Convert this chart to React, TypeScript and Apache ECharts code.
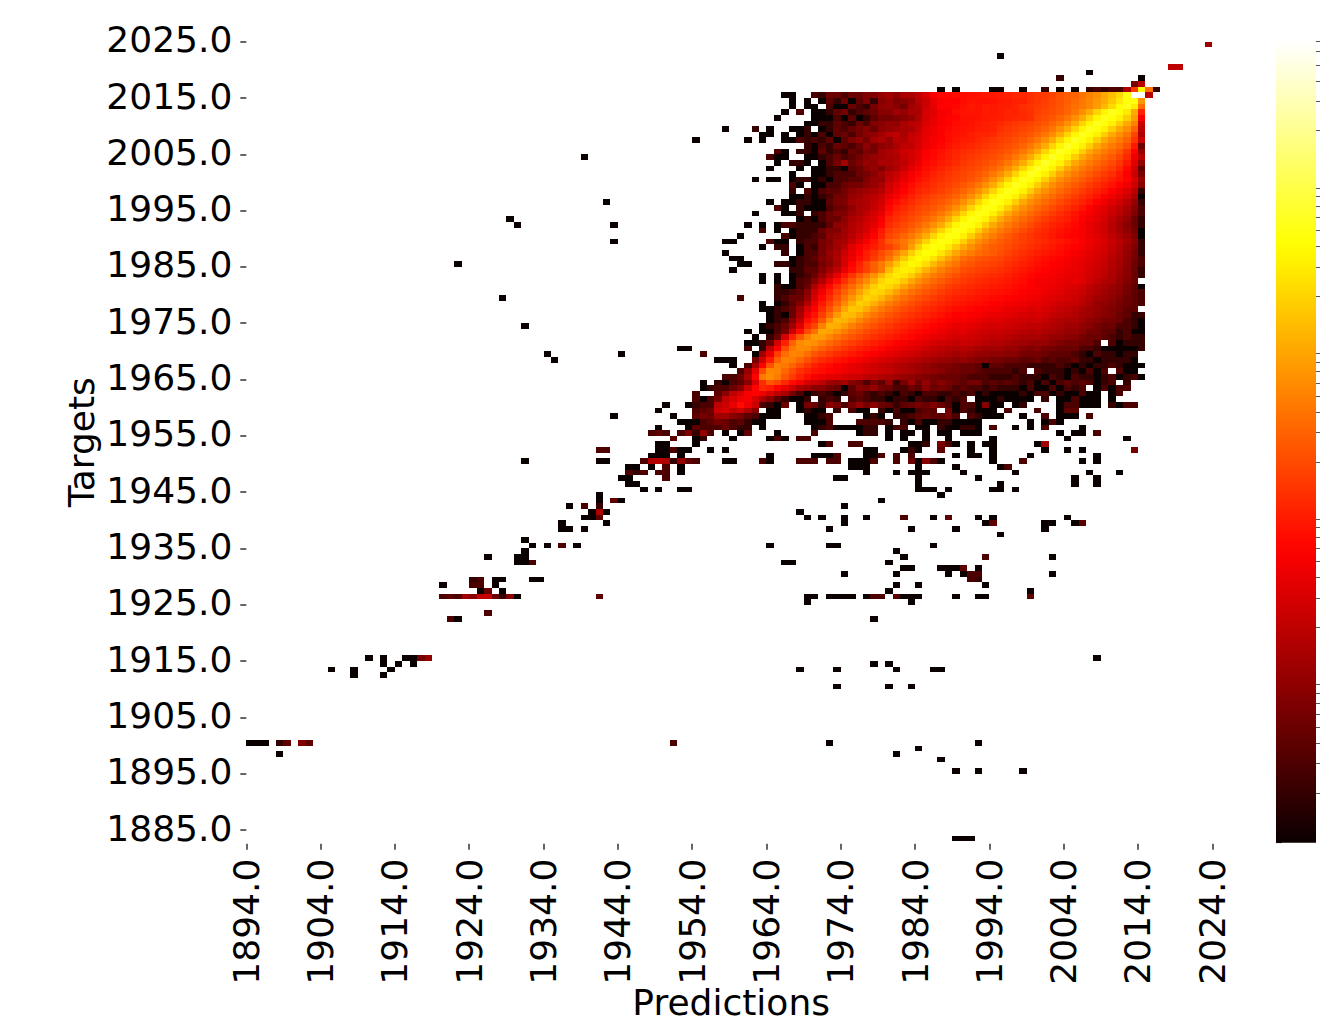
import React, { useEffect, useRef } from "react";
import * as echarts from "echarts";

const xTickYears = [1894, 1904, 1914, 1924, 1934, 1944, 1954, 1964, 1974, 1984, 1994, 2004, 2014, 2024];
const yTickYears = [1885, 1895, 1905, 1915, 1925, 1935, 1945, 1955, 1965, 1975, 1985, 1995, 2005, 2015, 2025];
const colorbarMajor = [0, 1, 2, 3, 4];
const colorbarMinorCounts = [2, 3, 4, 5, 6, 7, 8, 9, 20, 30, 40, 50, 60, 70, 80, 90, 200, 300, 400, 500, 600, 700, 800, 900, 2000, 3000, 4000, 5000, 6000, 7000, 8000, 9000, 20000, 30000, 40000, 50000, 60000, 69000];
const maxCount = 69000;

// Rows of counts for targets 2015 down to 1965, predictions 1970..2014.
const upperTopTarget = 2015;
const upperFirstPrediction = 1970;
const upperRows = [
[3,2,5,5,3,5,5,7,7,10,12,9,14,15,20,30,55,65,65,70,70,75,80,85,85,90,100,110,110,125,140,150,175,220,280,300,400,520,640,950,1400,2200,4800,69000,69000],
[0,1,4,2,5,1,4,7,2,8,10,7,8,10,18,25,40,55,60,60,70,80,75,75,80,85,90,100,100,125,140,160,190,230,280,340,420,540,750,1000,1600,2800,4500,4800,700],
[1,0,3,1,1,5,3,2,6,9,10,8,6,12,15,25,40,60,60,65,75,85,80,90,85,90,95,105,125,135,150,170,200,240,300,370,450,560,760,1300,2200,3900,5500,3000,350],
[1,1,2,4,6,2,3,4,5,8,8,12,10,14,14,30,35,50,55,70,80,80,80,90,85,95,105,100,115,130,165,185,210,250,310,420,630,1000,2000,3500,5500,4500,2800,1000,100],
[1,1,1,3,1,4,1,2,4,6,6,7,8,10,16,28,40,50,60,62,75,75,80,85,90,95,105,110,115,125,185,210,250,310,420,630,1000,2000,3500,5500,4500,3200,1800,800,55],
[1,2,2,4,3,2,5,3,7,8,10,9,14,18,20,32,40,52,58,70,72,78,85,95,100,115,130,145,160,180,210,250,310,420,630,1000,2000,3500,5600,4500,3200,1800,950,500,25],
[0,1,2,4,3,5,6,8,5,9,10,12,14,15,22,35,46,56,64,72,78,82,90,95,100,130,145,160,180,210,250,310,420,630,1000,2000,3500,5700,4500,3200,1800,950,620,300,20],
[1,3,1,4,5,3,6,8,9,12,18,20,14,22,25,40,46,58,70,76,82,92,105,105,110,145,160,180,210,250,310,420,630,1000,2000,3500,5800,4500,3200,1800,950,620,420,180,15],
[3,2,4,1,4,7,9,6,12,15,10,18,16,24,28,40,52,58,70,82,90,95,110,125,140,160,180,210,250,310,420,630,1000,2000,3500,5900,4500,3200,1800,950,620,450,300,140,25],
[1,3,2,5,4,3,5,9,6,9,10,14,20,20,30,45,52,62,78,90,100,110,125,140,160,180,210,250,310,420,630,1000,2000,3500,6000,4500,3200,1800,950,620,450,340,220,85,5],
[1,4,2,3,2,5,4,7,6,12,15,18,25,28,35,52,62,75,90,105,120,130,145,165,185,210,250,310,420,630,1000,2000,3500,6100,4500,3200,1800,950,620,450,340,250,140,60,10],
[1,2,3,5,3,4,6,8,10,12,14,16,22,28,38,56,66,80,95,110,130,145,165,185,210,250,310,420,630,1000,2000,3500,6200,4500,3200,1800,950,620,450,340,260,180,110,45,18],
[0,1,3,6,12,5,7,10,9,14,14,17,20,30,42,62,72,88,100,120,140,160,180,210,250,310,420,630,1000,2000,3500,6300,4500,3200,1800,950,620,450,340,260,200,140,85,35,10],
[1,1,2,2,1,4,5,8,10,7,12,15,24,36,50,70,85,100,120,140,160,180,210,250,310,420,630,1000,2000,3500,6300,4500,3200,1800,950,620,450,340,260,200,155,110,65,28,4],
[1,1,2,3,3,3,5,6,8,12,18,24,34,50,65,80,100,120,140,160,180,210,250,310,420,630,1000,2000,3500,6200,4500,3200,1800,950,620,450,340,260,200,155,125,85,55,24,6],
[1,2,1,3,3,4,4,7,10,10,20,28,40,55,75,90,110,130,150,170,190,230,290,400,630,1000,2000,3500,5500,4500,3200,1800,950,620,450,340,260,200,155,125,100,80,60,30,10],
[1,1,3,3,5,6,6,8,10,14,26,36,50,70,90,105,125,145,170,205,250,310,420,630,1000,2000,3500,5500,4500,3200,1800,950,620,450,340,260,200,155,125,100,80,60,45,25,8],
[1,3,4,4,6,8,10,12,14,18,30,45,60,80,105,120,140,165,205,250,310,420,630,1000,2000,3500,5400,4500,3200,1800,950,620,450,340,260,200,155,125,100,80,60,45,32,18,2],
[1,2,3,6,6,10,12,16,18,24,40,55,75,100,125,150,180,210,250,310,420,630,1000,2000,3500,5300,4500,3200,1800,950,620,450,340,260,200,155,125,100,80,60,45,35,25,14,1],
[1,1,4,6,7,12,14,16,20,28,50,70,95,120,150,170,210,250,310,420,630,1000,2000,3500,5300,4500,3200,1800,950,620,450,340,260,200,155,125,100,80,60,45,35,26,18,10,2],
[1,1,3,5,6,9,14,16,22,32,65,90,115,140,180,210,250,310,420,630,1000,2000,3500,5200,4500,3200,1800,950,620,450,340,260,200,155,125,100,80,60,45,35,28,20,14,8,3],
[2,3,5,7,7,11,14,20,28,40,80,110,135,170,210,250,310,420,630,1000,2000,3500,5200,4500,3200,1800,950,620,450,340,260,200,155,125,100,80,62,50,40,32,24,18,12,7,3],
[1,3,5,5,9,14,18,24,32,50,100,130,160,200,250,310,420,630,1000,2000,3500,5100,4500,3200,1800,950,620,450,340,260,200,155,125,105,90,72,58,46,36,28,20,14,10,5,2],
[2,2,4,9,10,16,20,28,38,60,120,150,190,240,310,420,630,1000,2000,3500,5000,4500,3200,1800,950,620,450,340,260,200,155,125,105,90,78,65,52,42,32,26,18,12,8,5,2],
[2,5,7,7,12,16,22,30,48,85,150,190,230,310,420,630,1000,2000,3500,5000,4500,3200,1800,950,620,450,340,260,200,160,130,110,92,80,68,60,50,40,32,25,18,13,9,6,1],
[3,4,8,10,12,18,26,38,60,100,180,230,310,420,630,1000,2000,3500,5000,4500,3200,1800,950,620,450,340,260,200,165,140,118,100,85,72,62,60,50,42,34,27,20,15,11,7,1],
[3,6,7,12,14,22,34,50,80,130,250,310,420,630,1000,2000,3500,4800,4300,3100,1800,950,620,450,340,280,230,190,160,140,125,110,95,85,75,65,55,46,38,30,24,18,13,8,2],
[2,6,8,12,18,35,50,70,90,130,170,250,400,800,1800,3500,4500,4000,2900,1700,950,620,450,340,270,250,200,170,145,125,110,98,85,75,66,58,50,42,34,28,22,16,11,7,2],
[3,6,10,14,24,40,60,90,130,200,300,500,900,1800,3300,4300,3800,2700,1600,900,600,460,360,300,260,215,175,145,125,108,95,85,76,68,60,52,45,38,32,26,20,15,10,6,2],
[4,7,9,16,28,45,70,100,150,240,400,800,1600,3000,4000,3500,2500,1450,850,570,350,290,250,220,200,180,150,128,110,95,82,74,66,60,53,47,41,35,29,24,18,14,9,6,3],
[3,6,8,14,30,60,100,170,280,450,780,1500,2800,3700,3200,2300,1300,780,530,400,270,235,205,185,170,155,130,112,96,84,72,66,60,54,48,43,38,32,27,22,17,13,9,5,3],
[4,7,12,20,40,70,110,170,280,450,1300,2500,3300,2900,2000,1150,700,480,370,290,215,190,170,155,142,130,112,96,84,74,64,60,55,50,45,41,36,30,25,20,16,12,8,5,2],
[5,10,20,40,80,140,240,400,650,1200,2200,3000,2600,1800,1050,650,460,350,275,220,175,155,140,128,118,110,96,84,74,66,57,54,50,46,42,38,33,28,23,19,15,11,8,5,2],
[8,16,35,70,130,220,370,600,1050,2000,2700,2300,1600,950,620,450,340,270,215,175,150,132,120,110,102,95,86,76,68,58,52,48,46,42,38,40,34,26,20,15,14,10,7,5,0],
[15,32,65,120,210,340,560,950,1800,2500,2100,1500,880,580,420,320,255,205,165,140,125,112,105,98,88,84,76,70,62,56,52,47,44,40,34,32,26,20,16,14,11,9,6,4,1],
[22,48,90,170,290,470,830,1500,2200,1900,1350,820,540,390,300,240,195,160,135,118,110,100,92,86,80,76,70,64,56,52,50,44,40,36,30,28,24,18,15,12,10,8,6,4,3],
[30,65,120,220,380,700,1250,2000,1750,1200,750,500,370,285,225,185,155,130,112,98,92,86,80,74,68,64,60,54,50,46,44,38,34,32,28,25,20,16,12,11,9,7,5,4,3],
[42,85,160,290,560,1050,1800,1600,1100,680,470,350,270,215,175,145,125,108,95,84,80,74,70,64,58,56,52,46,44,40,38,34,30,26,24,22,18,14,10,9,8,6,5,4,3],
[58,115,220,440,900,1600,1450,1000,620,440,330,255,205,168,140,120,105,92,80,70,68,62,58,54,50,48,42,40,36,32,34,30,26,22,20,18,14,12,10,8,7,6,4,4,0],
[80,160,340,750,1400,1300,900,570,410,310,240,195,160,135,115,100,88,76,66,58,60,54,50,46,42,40,36,34,30,28,30,26,22,20,18,16,13,12,9,8,7,5,4,2,2],
[110,250,620,1250,1150,820,530,385,295,230,185,155,130,112,96,84,72,64,56,50,50,46,42,38,34,34,30,28,26,24,26,22,18,16,14,14,12,9,8,6,6,5,3,2,1],
[180,500,1100,1000,730,490,360,280,220,175,145,122,104,90,78,68,60,52,46,40,42,38,34,30,28,30,26,24,22,20,20,18,16,14,12,12,9,8,6,5,5,3,3,2,1],
[380,950,880,640,450,330,260,205,165,140,118,100,86,74,64,56,50,44,38,33,36,32,28,26,24,24,22,20,18,16,18,15,14,12,10,10,8,6,6,4,4,2,3,1,1],
[800,760,560,400,300,235,190,155,130,110,95,82,70,62,54,46,40,36,32,28,30,26,24,22,20,20,18,16,14,14,14,12,10,10,8,8,6,5,5,4,3,2,3,2,2],
[620,470,340,260,200,165,135,112,95,82,70,60,52,45,40,35,30,26,24,21,24,22,20,18,16,16,14,12,12,10,10,10,8,7,6,6,5,5,3,0,3,1,2,2,2],
[400,290,220,175,140,115,98,84,72,62,52,46,40,34,30,26,22,20,18,16,18,16,14,12,12,12,10,10,8,7,8,6,6,5,5,5,3,3,2,1,1,1,1,1,2],
[240,185,145,120,100,85,72,62,54,46,40,34,30,26,23,20,18,16,14,12,14,12,10,10,9,9,8,8,6,6,6,5,4,4,4,3,2,1,3,2,2,1,2,2,0],
[150,120,100,82,70,60,50,44,38,32,28,24,21,18,16,14,12,11,10,9,10,8,7,7,6,6,5,5,4,4,5,3,4,3,3,4,2,2,1,2,2,2,2,1,0],
[100,80,68,56,48,40,34,30,26,22,20,17,15,13,11,10,8,7,7,6,5,5,4,1,4,4,3,3,3,2,2,2,2,3,2,1,2,1,2,2,3,2,1,1,1],
[80,70,60,52,46,40,36,32,28,24,22,18,16,14,12,10,9,8,6,6,5,5,4,3,3,3,3,2,3,0,3,2,2,2,1,2,1,3,1,3,0,3,1,1,0],
[50,45,38,35,30,26,24,20,18,16,14,12,10,9,8,7,6,5,5,5,4,3,3,3,2,2,2,3,2,2,2,1,3,2,1,3,2,2,1,2,3,1,2,3,1],
];

// Rows of counts for targets 1964 down to 1958, predictions 1954..2013.
const lowerTopTarget = 1964;
const lowerFirstPrediction = 1954;
const lowerRows = [
[0,1,0,2,1,3,4,8,30,120,250,180,110,70,50,30,25,20,12,10,14,8,6,3,6,4,10,2,6,12,5,10,6,8,6,5,4,6,6,3,4,3,4,3,2,3,1,3,1,3,4,3,4,3,1,2,3,0,2,0],
[0,1,2,3,3,5,8,25,60,110,90,60,40,25,14,12,8,8,6,5,1,4,8,7,10,6,5,3,3,5,4,8,5,6,5,3,4,3,3,2,3,2,2,2,1,3,1,1,3,1,3,2,3,0,1,3,1,3,3,0],
[3,0,0,4,8,20,30,50,60,45,30,20,14,6,3,1,2,3,2,1,2,4,5,3,2,3,2,1,3,2,1,3,3,2,2,3,2,3,1,2,1,1,1,1,2,1,3,3,1,2,1,1,3,1,1,0,1,3,0,0],
[3,1,3,6,22,30,45,50,30,14,8,4,2,1,1,2,0,2,3,2,0,3,4,3,2,2,1,2,2,1,3,2,2,1,3,2,3,0,1,1,1,2,1,1,1,1,0,2,0,1,1,3,1,1,1,0,1,0,0,0],
[2,3,3,20,25,40,70,45,25,3,2,1,5,0,1,6,5,2,8,6,3,6,10,6,8,5,4,2,4,5,6,5,7,5,3,1,3,3,1,8,1,1,0,1,2,0,0,0,0,1,3,3,1,1,1,0,2,1,3,3],
[3,4,5,25,30,20,25,15,8,0,1,1,0,0,1,2,1,1,0,2,0,3,1,1,0,2,1,3,1,1,3,4,4,0,6,1,3,2,1,1,1,0,3,0,0,0,3,0,0,1,4,4,0,0,0,0,0,0,0,0],
[4,6,5,12,12,8,6,4,3,1,1,1,0,0,0,1,1,2,3,0,0,0,0,1,2,1,0,2,2,3,4,5,4,4,6,3,0,3,2,1,1,1,0,0,1,0,0,3,0,1,1,1,0,3,0,0,0,0,0,0],
];

// Isolated cells with a count of one: target, then its prediction years.
const singleCountRows = [
[2022,1995],[2019,2007],[2018,2014],[2016,1987,1989,1994,1995,1998,2003,2005],[2015,1966,1967],[2014,1967,1969],[2013,1967,1969],[2012,1966],[2011,1965],[2010,1969],
[2009,1958,1964,1967,1968],[2008,1963,1964,1966,1968],[2007,1954,1961,1963,1966,1967],[2005,1966],[2004,1939,1965,1966,1969],[2003,1965,1969],[2002,1964,1968],[2001,1967],[2000,1962,1964,1965,1967],[1999,1968],[1998,1967],[1997,1967,1968],
[1996,1942,1964,1966,1967],[1995,1966,1969],[1994,1962,1966,1967],[1993,1929,1968],[1992,1930,1943,1961,1963,1965],[1991,1965,1967],[1990,1960,1967],[1989,1943,1958,1959,1965,1966],[1988,1963],
[1987,1958,1968],[1986,1959,1960,1967],[1985,1922,1960,1961,1967],[1984,1959],[1983,1963,1965,1967],[1982,1963,1965,1967],[1981,1966,1967],[1979,1928],[1978,1963,1965],[1977,1963,1964],[1976,1964,1966],[1975,1964],[1974,1931,1963],
[1973,1961,1963,1964],[1972,1962],[1971,1961,1962],[1970,1952,1953],[1969,1934,1944,1962],[1968,1935,1957,1958,1959],[1967,1959,1961],[1966,1960],
[1958,1943,1951],[1960,1950,1953],[1959,1949],
[1957,1952,1953,1954,1962,1963,1969,1970,1971,1976,1983,1985,1986,1989,1990,1991,1992,1999,2001,2003],
[1956,1949,1953,1963,1970,1973,1974,1975,1976,1980,1984,1985,1988,1989,1992,1997,1999,2006],
[1955,1958,1960,1965,1976,1980,1982,1983,1985,1987,1988,1990,1991,1992,2003,2005,2006],
[1954,1954,1959,1964,1966,1980,1982,1985,1988,1994,2004,2012],
[1953,1949,1950,1954,1971,1983,1984,1989,1991,1993,1994,2000],
[1952,1949,1950,1952,1953,1956,1958,1977,1978,1982,1984,1991,1994,2001,2004,2006],
[1951,1948,1949,1950,1952,1964,1970,1971,1972,1977,1978,1989,1991,1992,1994,1999,2008],
[1950,1931,1941,1942,1958,1959,1964,1975,1976,1977,1984,1987,1994,2006,2008],
[1949,1945,1946,1948,1952,1975,1976,1977,1984,1989,1995],
[1948,1952,1977,1981,1983,1984,1985,1990,1997,2007,2011],
[1947,1944,1945,1973,1974,1984,1992,2005,2008],[1946,1945,1946,1984,1995,2005,2008],
[1945,1947,1949,1952,1953,1984,1985,1986,1988,1994,1995,1997],[1944,1941,1987],[1943,1941,1944,1979],
[1942,1937,1941,1974],[1941,1940,1942,1968],[1940,1939,1940,1969,1971,1974,1977,1986,1992,1994,2004],[1939,1936,1942,1974,1993,2001,2002,2005],
[1938,1936,1937,1939,1972,1983,1989,2001],[1937,1995],[1936,1931],[1935,1932,1934,1938,1964,1972,1973,1986],[1934,1931,1981],[1933,1926,1930,1931,1982,2002],
[1932,1930,1931,1966,1967,1980],[1931,1982,1983,1987,1988,1989,1992],[1930,1974,1981,1988,1990,2002],[1929,1927,1928,1932,1933],[1928,1920,1927,1981,1984,1993],
[1927,1925,1928,1980,1999],[1926,1930,1969,1970,1972,1973,1974,1975,1977,1982,1983,1984,1989,1992,1993],[1925,1969,1983],[1922,1922,1978],
[1915,1910,1912,1915,1916,2008],[1914,1912,1914,1916,1978,1980],[1913,1905,1908,1913,1968,1973,1981,1986,1987],[1912,1908,1912],[1910,1973,1980,1983],
[1900,1894,1895,1896,1972,1992],[1899,1984],[1898,1898,1981],[1897,1987],[1895,1989,1992,1998],[1883,1989,1990,1991],
];

// Cells with small counts above one: prediction, target, count.
const lowCountCells = [
[2023,2024,12],[2018,2020,20],[2019,2020,20],[2003,2018,2],[2013,2017,6],[2014,2017,18],
[2001,2016,2],[2007,2016,2],[2008,2016,3],[2009,2016,2],[2010,2016,3],[2011,2016,3],[2012,2016,15],[2013,2016,150],[2014,2016,4000],[2015,2016,400],[2016,2016,2],[2015,2015,18],
[1968,2012,3],[1969,2009,2],[1969,2008,2],[1969,2007,2],[1968,2007,3],[1969,2006,2],[1962,2009,2],[1965,2005,3],[1968,2005,2],[1969,2005,2],[1964,2004,3],[1967,2003,2],[1968,2003,2],[1968,2000,2],[1969,2000,2],[1967,1999,3],[1967,1998,2],[1969,1998,3],[1969,1997,2],[1968,1996,2],[1969,1996,2],[1965,1995,3],[1968,1995,2],[1968,1994,2],[1969,1993,2],[1966,1992,3],[1967,1992,3],[1968,1992,2],[1969,1992,2],[1963,1991,3],[1968,1991,2],[1969,1991,2],[1966,1990,3],[1968,1990,2],[1969,1990,2],[1964,1989,3],[1968,1989,2],[1969,1989,3],
[1965,1988,2],[1966,1988,2],[1968,1988,1],[1969,1988,3],[1966,1987,2],[1969,1987,3],[1968,1986,2],[1969,1986,3],[1965,1985,2],[1966,1985,2],[1968,1985,2],[1969,1985,3],[1967,1984,2],[1968,1984,2],[1969,1984,4],[1968,1983,2],[1969,1983,3],[1968,1982,3],[1969,1982,4],[1965,1981,2],[1968,1981,3],[1969,1981,5],[1965,1980,2],[1966,1980,2],[1967,1980,3],[1968,1980,4],[1969,1980,8],[1960,1979,3],[1965,1979,2],[1966,1979,3],[1967,1979,5],[1968,1979,5],[1969,1979,10],[1966,1978,2],[1967,1978,4],[1968,1978,7],[1969,1978,16],[1965,1977,2],[1966,1977,3],[1967,1977,5],[1968,1977,12],[1969,1977,30],[1965,1976,2],[1967,1976,5],[1968,1976,14],[1969,1976,45],[1965,1975,2],[1966,1975,3],[1967,1975,8],[1968,1975,20],[1969,1975,70],[1964,1974,2],[1965,1974,3],[1966,1974,5],[1967,1974,12],[1968,1974,35],[1969,1974,110],[1965,1973,3],[1966,1973,6],[1967,1973,25],[1968,1973,70],[1969,1973,200],[1964,1972,2],[1965,1972,5],[1966,1972,30],[1967,1972,100],[1968,1972,250],[1969,1972,500],[1963,1971,2],[1964,1971,5],[1965,1971,30],[1966,1971,100],[1967,1971,300],[1968,1971,600],[1969,1971,700],
[1961,1970,3],[1963,1970,2],[1964,1970,20],[1965,1970,60],[1966,1970,200],[1967,1970,450],[1968,1970,600],[1969,1970,550],[1955,1969,3],[1963,1969,12],[1964,1969,40],[1965,1969,160],[1966,1969,350],[1967,1969,550],[1968,1969,480],[1969,1969,350],[1962,1968,6],[1963,1968,25],[1964,1968,90],[1965,1968,280],[1966,1968,500],[1967,1968,450],[1968,1968,320],[1969,1968,220],[1961,1967,3],[1962,1967,14],[1963,1967,60],[1964,1967,220],[1965,1967,500],[1966,1967,420],[1967,1967,300],[1968,1967,200],[1969,1967,140],[1960,1966,3],[1961,1966,10],[1962,1966,40],[1963,1966,200],[1964,1966,550],[1965,1966,500],[1966,1966,320],[1967,1966,200],[1968,1966,130],[1969,1966,100],[1958,1965,3],[1959,1965,3],[1960,1965,5],[1961,1965,14],[1962,1965,60],[1963,1965,450],[1964,1965,600],[1965,1965,450],[1966,1965,250],[1967,1965,150],[1968,1965,100],[1969,1965,70],
[1955,1957,3],[1956,1957,4],[1957,1957,6],[1958,1957,5],[1959,1957,3],[1960,1957,4],[1961,1957,2],[1972,1957,3],[1976,1957,3],[1977,1957,3],[1978,1957,3],[1979,1957,3],[1980,1957,2],[1982,1957,2],[1984,1957,3],[1987,1957,2],[1988,1957,2],[2002,1957,3],
[1954,1956,4],[1955,1956,3],[1956,1956,3],[1957,1956,3],[1958,1956,5],[1959,1956,3],[1960,1956,2],[1961,1956,2],[1971,1956,2],[1972,1956,3],[1977,1956,2],[1978,1956,2],[1981,1956,3],[1982,1956,3],[1987,1956,2],[1990,1956,2],[1991,1956,2],[1994,1956,3],[2001,1956,3],
[1948,1955,3],[1949,1955,4],[1950,1955,3],[1952,1955,3],[1953,1955,7],[1954,1955,2],[1955,1955,10],[1956,1955,3],[1961,1955,4],[1970,1955,3],[1977,1955,2],[1978,1955,2],[2008,1955,3],
[1951,1954,4],[1955,1954,2],[1965,1954,3],[1968,1954,3],[1969,1954,3],[1972,1953,3],[1975,1953,3],[1976,1953,3],[1985,1953,2],[1987,1953,6],[1988,1953,3],[2001,1953,12],
[1951,1952,3],[1983,1952,2],[1987,1952,4],[2013,1952,6],[1941,1952,3],[1942,1952,3],[1973,1951,3],[1979,1951,3],[1981,1951,3],[1983,1951,3],
[1947,1950,3],[1948,1950,15],[1949,1950,18],[1950,1950,15],[1951,1950,2],[1952,1950,10],[1953,1950,4],[1954,1950,3],[1963,1950,3],[1968,1950,3],[1969,1950,3],[1970,1950,3],[1972,1950,3],[1973,1950,3],[1978,1950,3],[1981,1950,3],[1983,1950,5],[1985,1950,8],[1986,1950,3],[1998,1950,3],
[1950,1949,3],[1996,1949,3],[1947,1948,3],[1949,1948,3],[1950,1948,3],[1945,1948,3],[1946,1948,2],[1950,1947,3],
[1939,1942,3],[1941,1942,2],[1941,1941,15],[1943,1943,4],[1941,1940,4],[1936,1935,3],[1932,1932,3],[1982,1940,3],[1988,1940,4],[1994,1939,4],[2006,1939,4],[1993,1933,3],[1990,1931,4],[1991,1930,3],[1992,1930,3],[1991,1929,3],[1992,1929,2],
[1924,1929,2],[1925,1929,3],[1924,1928,3],[1925,1928,3],[1926,1927,5],
[1920,1926,3],[1921,1926,4],[1922,1926,3],[1923,1926,12],[1924,1926,8],[1925,1926,22],[1926,1926,22],[1927,1926,5],[1928,1926,2],[1929,1926,8],[1941,1926,4],[1978,1926,3],[1979,1926,3],[1981,1926,4],[1999,1926,4],
[1926,1923,3],[1921,1922,3],[1917,1915,6],[1918,1915,10],[1898,1900,2],[1899,1900,4],[1901,1900,7],[1902,1900,4],[1951,1900,3],
];

const xMin = 1894;
const xMax = 2024.5;
const yMin = 1882.745;
const yMax = 2025;

function clamp(t: number) {
  return Math.max(0, Math.min(1, t));
}

function hot(t: number) {
  const r = clamp(0.0416 + (t / 0.365) * 0.9584);
  const g = clamp((t - 0.365) / 0.381);
  const b = clamp((t - 0.746) / 0.254);
  return `rgb(${Math.round(r * 255)},${Math.round(g * 255)},${Math.round(b * 255)})`;
}

function buildCells() {
  const cells = new Map<string, number[]>();
  const put = (x: number, y: number, n: number) => {
    if (n > 0) cells.set(`${x}|${y}`, [x, y, n]);
  };
  upperRows.forEach((row, i) => row.forEach((n, j) => put(upperFirstPrediction + j, upperTopTarget - i, n)));
  lowerRows.forEach((row, i) => row.forEach((n, j) => put(lowerFirstPrediction + j, lowerTopTarget - i, n)));
  singleCountRows.forEach(([target, ...years]) => years.forEach((x) => {
    if (!cells.has(`${x}|${target}`)) put(x, target, 1);
  }));
  lowCountCells.forEach(([x, y, n]) => put(x, y, n));
  return Array.from(cells.values());
}

export default function App() {
  const ref = useRef<HTMLDivElement>(null);
  useEffect(() => {
    document.body.style.margin = "0";
    const chart = echarts.init(ref.current!, undefined, { renderer: "svg" });
    const font = "DejaVu Sans";
    const logMax = Math.log10(maxCount);
    const gradientStops = Array.from({ length: 41 }, (_, i) => ({ offset: i / 40, color: hot(1 - i / 40) }));
    chart.setOption({
      animation: false,
      backgroundColor: "#ffffff",
      grid: [
        { left: 246.3, top: 41.7, width: 969.7, height: 801, outerBoundsMode: "none" },
        { left: 1276, top: 41.7, width: 40, height: 801, outerBoundsMode: "none" },
      ],
      xAxis: [
        {
          type: "value", min: xMin, max: xMax, gridIndex: 0, offset: 1,
          name: "Predictions", nameLocation: "middle", nameGap: 141, nameMoveOverlap: false,
          nameTextStyle: { fontFamily: font, fontSize: 36, color: "#000" },
          splitLine: { show: false }, axisLine: { show: false },
          axisTick: { show: true, length: 6, customValues: xTickYears, lineStyle: { color: "#333", width: 1.5 } },
          axisLabel: { rotate: 90, margin: 15, fontFamily: font, fontSize: 36, color: "#000", customValues: xTickYears, formatter: (v: number) => v.toFixed(1) },
        },
        { type: "value", min: 0, max: 1, gridIndex: 1, show: false },
      ],
      yAxis: [
        {
          type: "value", min: yMin, max: yMax, gridIndex: 0,
          name: "Targets", nameLocation: "middle", nameGap: 147, nameMoveOverlap: false,
          nameTextStyle: { fontFamily: font, fontSize: 36, color: "#000" },
          splitLine: { show: false }, axisLine: { show: false },
          axisTick: { show: true, length: 6, customValues: yTickYears, lineStyle: { color: "#333", width: 1.5 } },
          axisLabel: { margin: 14, verticalAlign: "bottom", lineHeight: 4, fontFamily: font, fontSize: 36, color: "#000", customValues: yTickYears, formatter: (v: number) => v.toFixed(1) },
        },
        {
          type: "value", min: 0, max: logMax, gridIndex: 1, position: "right",
          splitLine: { show: false }, axisLine: { show: false }, axisLabel: { show: false },
          axisTick: { show: true, length: 6, customValues: colorbarMajor, lineStyle: { color: "#333", width: 1.2 } },
        },
        {
          type: "value", min: 0, max: logMax, gridIndex: 1, position: "right",
          splitLine: { show: false }, axisLine: { show: false }, axisLabel: { show: false },
          axisTick: { show: true, length: 4, customValues: colorbarMinorCounts.map((n) => Math.log10(n)), lineStyle: { color: "#555", width: 1 } },
        },
      ],
      series: [
        {
          type: "custom", xAxisIndex: 0, yAxisIndex: 0, silent: true, clip: false,
          data: buildCells(),
          encode: { x: 0, y: 1 },
          renderItem: (_: unknown, api: any) => {
            const x = api.value(0);
            const y = api.value(1);
            const n = api.value(2);
            const a = api.coord([x, y + 1]);
            const b = api.coord([x + 1, y]);
            const x0 = Math.round(a[0]);
            const x1 = Math.round(b[0]);
            const y0 = Math.round(a[1]);
            const y1 = Math.round(b[1]);
            return {
              type: "rect",
              shape: { x: x0, y: y0, width: x1 - x0, height: y1 - y0 },
              style: { fill: hot(clamp(Math.log10(n) / logMax)) },
            };
          },
        },
        {
          type: "custom", xAxisIndex: 1, yAxisIndex: 1, silent: true,
          data: [[0, 0, 1, logMax]],
          renderItem: (_: unknown, api: any) => {
            const a = api.coord([api.value(0), api.value(3)]);
            const b = api.coord([api.value(2), api.value(1)]);
            return {
              type: "rect",
              shape: { x: a[0], y: a[1], width: b[0] - a[0], height: b[1] - a[1] },
              style: { fill: new echarts.graphic.LinearGradient(0, 0, 0, 1, gradientStops) },
            };
          },
        },
      ],
    });
    return () => chart.dispose();
  }, []);
  return <div ref={ref} style={{ width: 1330, height: 1019 }} />;
}
